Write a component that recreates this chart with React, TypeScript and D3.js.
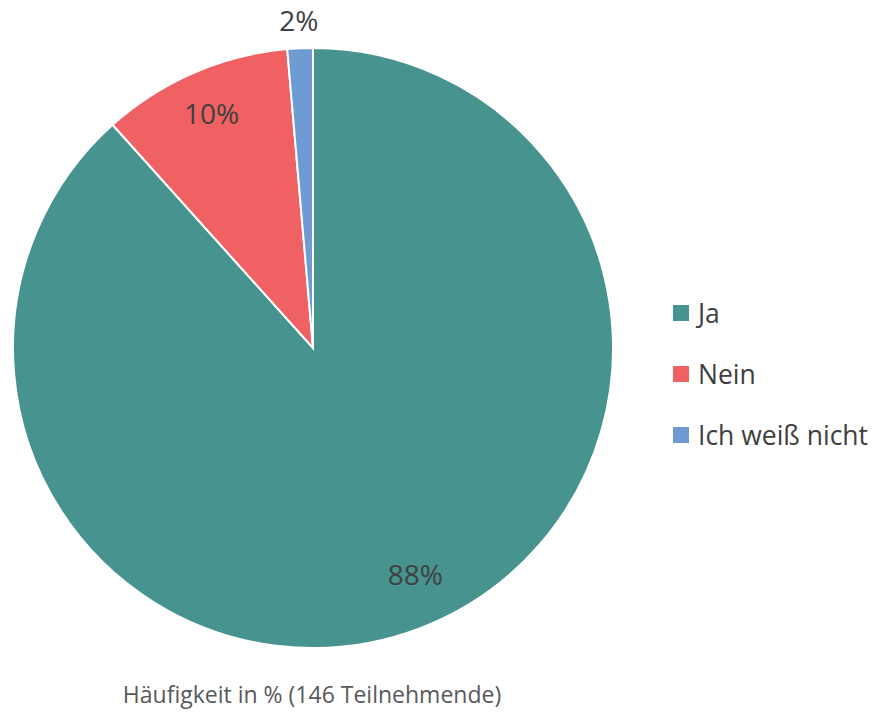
import React, { useEffect, useRef } from "react";
import * as d3 from "d3";

const categories = ["Ja", "Nein", "Ich weiß nicht"];
const counts = [129, 15, 2];
const pctLabels = ["88%", "10%", "2%"];
const colors = ["#46938f", "#f06163", "#6e9bd2"];
const caption = "Häufigkeit in % (146 Teilnehmende)";

const W = 878;
const H = 716;
const cx = 313;
const cy = 348;
const radius = 300;
const font = "'Open Sans', sans-serif";

const App = () => {
  const ref = useRef<SVGSVGElement>(null);

  useEffect(() => {
    const svg = d3.select(ref.current);
    svg.selectAll("*").remove();

    const pie = d3
      .pie<number>()
      .sort(null)
      .value((d) => d);
    const arcs = pie(counts);
    const arc = d3.arc<d3.PieArcDatum<number>>().innerRadius(0).outerRadius(radius);

    const g = svg.append("g").attr("transform", `translate(${cx},${cy})`);

    g.selectAll("path")
      .data(arcs)
      .enter()
      .append("path")
      .attr("d", arc)
      .attr("fill", (d, i) => colors[i])
      .attr("stroke", "#fff")
      .attr("stroke-width", 2);

    // label placement: inside for the big slices, outside for the tiny one
    const labelRadius = [0.83, 0.85, 1.09];
    const labelShift = [-3.3, 0, 0]; // degrees
    g.selectAll("text.pct")
      .data(arcs)
      .enter()
      .append("text")
      .attr("class", "pct")
      .attr("transform", (d, i) => {
        const a = (d.startAngle + d.endAngle) / 2 + (labelShift[i] * Math.PI) / 180;
        const r = radius * labelRadius[i];
        return `translate(${Math.sin(a) * r},${-Math.cos(a) * r})`;
      })
      .attr("text-anchor", "middle")
      .attr("dy", "0.36em")
      .attr("font-family", font)
      .attr("font-size", 28)
      .attr("fill", "#404040")
      .text((d, i) => pctLabels[i]);

    const legend = svg
      .append("g")
      .attr("transform", "translate(673,313)")
      .selectAll("g")
      .data(categories)
      .enter()
      .append("g")
      .attr("transform", (d, i) => `translate(0,${i * 61})`);

    legend
      .append("rect")
      .attr("x", 0)
      .attr("y", -8)
      .attr("width", 16)
      .attr("height", 16)
      .attr("fill", (d, i) => colors[i]);

    legend
      .append("text")
      .attr("x", 25)
      .attr("dy", "0.36em")
      .attr("font-family", font)
      .attr("font-size", 26.5)
      .attr("fill", "#404040")
      .text((d) => d);

    svg
      .append("text")
      .attr("x", 312)
      .attr("y", 703)
      .attr("text-anchor", "middle")
      .attr("font-family", font)
      .attr("font-size", 23)
      .attr("fill", "#595959")
      .text(caption);
  }, []);

  return (
    <svg
      ref={ref}
      width={W}
      height={H}
      style={{ position: "absolute", left: 0, top: 0, background: "#fff" }}
    />
  );
};

export default App;
